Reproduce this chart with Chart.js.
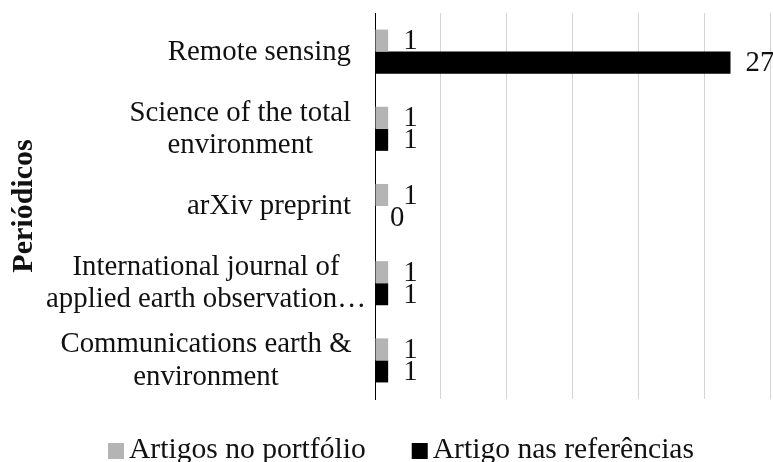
<!DOCTYPE html>
<html><head><meta charset="utf-8">
<script src="https://cdn.jsdelivr.net/npm/chart.js@4.4.0/dist/chart.umd.min.js"></script>
<style>html,body{margin:0;padding:0;background:#fff;} #c{display:block}</style>
</head><body>
<canvas id="c" width="773" height="462"></canvas>
<script>
// ---- data ----
const categories = [
  ["Remote sensing"],
  ["Science of the total", "environment"],
  ["arXiv preprint"],
  ["International journal of", "applied earth observation\u2026"],
  ["Communications earth &", "environment"]
];
const seriesNames = ["Artigos no portf\u00f3lio", "Artigo nas refer\u00eancias"];
const portfolio = [1, 1, 1, 1, 1];
const references = [27, 1, 0, 1, 1];
const xTickStep = 5;
const xMin = 0, xMax = 30;
const axisTitle = "Peri\u00f3dicos";

// ---- style ----
const colors = ["#b4b4b4", "#000000"];
const FONT = "'Liberation Serif','Times New Roman',serif";
const FS = 28.8;
const LFS = 29.6;
const TXT = "#111111";

const valueLabels = {
  id: 'valueLabels',
  afterDatasetsDraw(chart) {
    const ctx = chart.ctx;
    ctx.save();
    ctx.font = FS + "px " + FONT;
    ctx.fillStyle = TXT;
    ctx.textAlign = 'left';
    ctx.textBaseline = 'middle';
    chart.data.datasets.forEach((ds, di) => {
      const meta = chart.getDatasetMeta(di);
      meta.data.forEach((el, i) => {
        ctx.fillText(String(ds.data[i]), el.x + 15, el.y + 1);
      });
    });
    ctx.restore();
  }
};

const catLabels = {
  id: 'catLabels',
  afterDraw(chart) {
    const ctx = chart.ctx;
    const ys = chart.scales.y;
    const right = chart.chartArea.left - 24;
    const lh = 32.5;
    ctx.save();
    ctx.font = FS + "px " + FONT;
    ctx.fillStyle = TXT;
    ctx.textAlign = 'center';
    ctx.textBaseline = 'alphabetic';
    chart.data.labels.forEach((lines, i) => {
      const yc = ys.getPixelForTick(i);
      let w = 0;
      lines.forEach(l => { w = Math.max(w, ctx.measureText(l).width); });
      w = Math.min(w, 290);
      const cx = right - w / 2;
      const y0 = yc + 8 - (lines.length - 1) * lh / 2;
      lines.forEach((l, k) => ctx.fillText(l, cx, y0 + k * lh));
    });
    ctx.restore();
  }
};

const legendPlugin = {
  id: 'customLegend',
  afterDraw(chart) {
    const ctx = chart.ctx;
    ctx.save();
    ctx.font = LFS + "px " + FONT;
    ctx.textBaseline = 'alphabetic';
    ctx.textAlign = 'left';
    const box = 16, gap = 5, spacing = 46;
    const items = chart.data.datasets.map(ds => ({ text: ds.label, color: ds.backgroundColor, w: box + gap + ctx.measureText(ds.label).width }));
    const total = items.reduce((a, b) => a + b.w, 0) + spacing * (items.length - 1);
    let x = 401 - total / 2;
    const base = 458;
    items.forEach(it => {
      ctx.fillStyle = it.color;
      ctx.fillRect(x, base - 15, box, 16);
      ctx.fillStyle = TXT;
      ctx.fillText(it.text, x + box + gap, base);
      x += it.w + spacing;
    });
    ctx.restore();
  }
};

new Chart(document.getElementById('c'), {
  type: 'bar',
  data: {
    labels: categories,
    datasets: [
      { label: seriesNames[0], data: portfolio, backgroundColor: colors[0], borderWidth: 0 },
      { label: seriesNames[1], data: references, backgroundColor: colors[1], borderWidth: 0 }
    ]
  },
  options: {
    indexAxis: 'y',
    responsive: false,
    animation: false,
    devicePixelRatio: 1,
    categoryPercentage: 0.571,
    barPercentage: 1,
    layout: { padding: { top: 13, right: 3, bottom: 63, left: 0 } },
    plugins: { legend: { display: false }, tooltip: { enabled: false } },
    scales: {
      x: {
        type: 'linear', min: xMin, max: xMax,
        ticks: { display: false, stepSize: xTickStep },
        grid: { color: '#d4d4d4', lineWidth: 1, drawTicks: false },
        border: { display: false },
        afterFit(s) { s.height = 0; }
      },
      y: {
        ticks: { display: false },
        grid: { display: false, drawTicks: false },
        border: { display: true, color: '#000', width: 1 },
        title: { display: true, text: axisTitle, color: TXT, font: { family: FONT, size: 30, weight: 'bold' }, padding: { top: 6, bottom: 0 } },
        afterFit(s) { s.width = 375; }
      }
    }
  },
  plugins: [valueLabels, catLabels, legendPlugin]
});
</script>
</body></html>
